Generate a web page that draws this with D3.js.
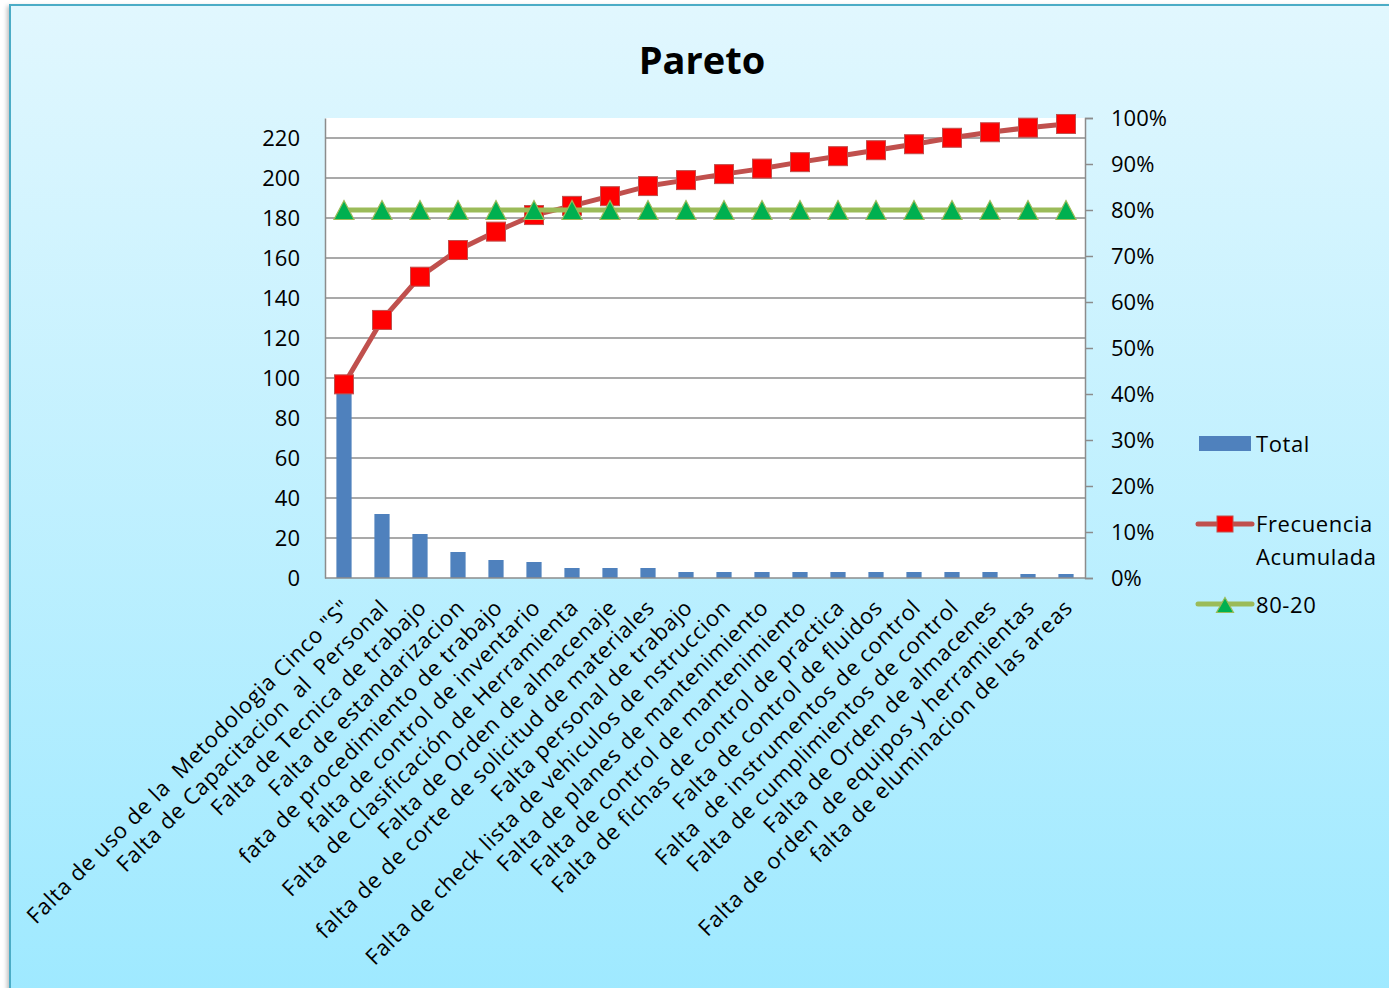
<!DOCTYPE html>
<html>
<head>
<meta charset="utf-8">
<script src="https://cdn.jsdelivr.net/npm/d3@7/dist/d3.min.js"></script>
<style>
  html, body { margin: 0; padding: 0; background: #ffffff; }
  svg { display: block; }
  text { font-family: "Open Sans", "DejaVu Sans", sans-serif; fill: #000; }
</style>
</head>
<body>
<svg id="chart" width="1389" height="988"></svg>
<script>
// Causes, sorted by frequency
const categories = [
  'Falta de uso de la  Metodologia Cinco "S"',
  "Falta de Capacitacion  al  Personal",
  "Falta de Tecnica de trabajo",
  "Falta de estandarizacion",
  "fata de procedimiento de trabajo",
  "falta de control de inventario",
  "Falta de Clasificación de Herramienta",
  "Falta de Orden de almacenaje",
  "falta de de corte de solicitud de materiales",
  "Falta personal de trabajo",
  "Falta de check lista de vehiculos de nstruccion",
  "Falta de planes de mantenimiento",
  "Falta de control de mantenimiento",
  "Falta de fichas de control de practica",
  "Falta de control de fluidos",
  "Falta  de instrumentos de control",
  "Falta de cumplimientos de control",
  "Falta de Orden de almacenes",
  "Falta de orden  de equipos y herramientas",
  "falta de eluminacion de las areas"
];

// Occurrences per cause (left axis)
const total = [94, 32, 22, 13, 9, 8, 5, 5, 5, 3, 3, 3, 3, 3, 3, 3, 3, 3, 2, 2];

// Cumulative frequency, percent (right axis)
const acumulada = [42.1, 56.1, 65.5, 71.3, 75.3, 78.9, 80.9, 83.0, 85.2, 86.5,
                   87.8, 89.0, 90.4, 91.7, 93.0, 94.3, 95.7, 96.9, 97.9, 98.7];

// 80-20 reference line, percent
const ochentaVeinte = [80, 80, 80, 80, 80, 80, 80, 80, 80, 80,
                       80, 80, 80, 80, 80, 80, 80, 80, 80, 80];

// Axis ticks
const leftTicks = [0, 20, 40, 60, 80, 100, 120, 140, 160, 180, 200, 220];
const rightTicks = [0, 0.1, 0.2, 0.3, 0.4, 0.5, 0.6, 0.7, 0.8, 0.9, 1.0];

const legendLabels = ["Total", "Frecuencia", "Acumulada", "80-20"];

const svg = d3.select("#chart");
const defs = svg.append("defs");

const grad = defs.append("linearGradient")
  .attr("id", "bg").attr("x1", 0).attr("y1", 0).attr("x2", 0).attr("y2", 1);
grad.append("stop").attr("offset", "0%").attr("stop-color", "#e1f7fe");
grad.append("stop").attr("offset", "100%").attr("stop-color", "#9ee9ff");

const shadow = defs.append("filter").attr("id", "shadow")
  .attr("x", "-5%").attr("y", "-5%").attr("width", "110%").attr("height", "110%");
shadow.append("feDropShadow").attr("dx", -2).attr("dy", 2)
  .attr("stdDeviation", 2).attr("flood-color", "#000").attr("flood-opacity", 0.25);

// Chart frame
svg.append("rect")
  .attr("x", 10).attr("y", 5).attr("width", 1400).attr("height", 1000)
  .attr("fill", "url(#bg)")
  .attr("stroke", "#4bacc6").attr("stroke-width", 2)
  .attr("filter", "url(#shadow)");

// Plot area
const plot = { left: 325, right: 1085, top: 118, bottom: 578 };

const x = d3.scaleBand()
  .domain(d3.range(categories.length))
  .range([plot.left, plot.right])
  .paddingInner(0.6).paddingOuter(0.3);
const cx = i => x(i) + x.bandwidth() / 2;

const yLeft = d3.scaleLinear().domain([0, 230]).range([plot.bottom, plot.top]);
const yRight = d3.scaleLinear().domain([0, 1]).range([plot.bottom, plot.top]);

svg.append("rect")
  .attr("x", plot.left).attr("y", plot.top)
  .attr("width", plot.right - plot.left).attr("height", plot.bottom - plot.top)
  .attr("fill", "#ffffff");

// Gridlines
svg.append("g").selectAll("line").data(leftTicks.filter(d => d > 0)).join("line")
  .attr("x1", plot.left).attr("x2", plot.right)
  .attr("y1", d => yLeft(d)).attr("y2", d => yLeft(d))
  .attr("stroke", "#8c8c8c").attr("stroke-width", 1.3);

// Title
svg.append("text")
  .attr("x", 702).attr("y", 74)
  .attr("text-anchor", "middle")
  .style("font-size", "38px").style("font-weight", "bold")
  .text("Pareto");

// Bars
svg.append("g").selectAll("rect").data(total).join("rect")
  .attr("x", (d, i) => x(i))
  .attr("y", d => yLeft(d))
  .attr("width", x.bandwidth())
  .attr("height", d => plot.bottom - yLeft(d))
  .attr("fill", "#4f81bd");

// Left axis
const axL = svg.append("g")
  .attr("transform", `translate(${plot.left},0)`)
  .call(d3.axisLeft(yLeft).tickValues(leftTicks).tickSize(0).tickPadding(25));
axL.select(".domain").attr("stroke", "#8c8c8c").attr("stroke-width", 1.5);
axL.selectAll("text").style("font-size", "22px").style("font-family", '"Open Sans", sans-serif').attr("fill", "#000");

// Right axis
const axR = svg.append("g")
  .attr("transform", `translate(${plot.right},0)`)
  .call(d3.axisRight(yRight).tickValues(rightTicks).tickSize(8).tickPadding(18)
        .tickFormat(d3.format(".0%")));
axR.select(".domain").attr("stroke", "#8c8c8c").attr("stroke-width", 1.5);
axR.selectAll("line").attr("stroke", "#8c8c8c").attr("stroke-width", 1.5);
axR.selectAll("text").style("font-size", "22px").style("font-family", '"Open Sans", sans-serif').attr("fill", "#000");

// Category axis line
svg.append("line")
  .attr("x1", plot.left).attr("x2", plot.right)
  .attr("y1", plot.bottom).attr("y2", plot.bottom)
  .attr("stroke", "#8c8c8c").attr("stroke-width", 1.5);

// Category labels, rotated
svg.append("g").selectAll("text").data(categories).join("text")
  .attr("transform", (d, i) => `translate(${cx(i) + 8},${609}) rotate(-45)`)
  .attr("text-anchor", "end")
  .attr("xml:space", "preserve")
  .style("white-space", "pre")
  .style("font-size", "22px")
  .style("letter-spacing", "0.75px")
  .text(d => d);

// Cumulative frequency line
const lineC = d3.line().x((d, i) => cx(i)).y(d => yRight(d / 100));
svg.append("path").datum(acumulada)
  .attr("d", lineC).attr("fill", "none")
  .attr("stroke", "#c0504d").attr("stroke-width", 5).attr("stroke-linejoin", "round");
const sq = 19;
svg.append("g").selectAll("rect").data(acumulada).join("rect")
  .attr("x", (d, i) => cx(i) - sq / 2)
  .attr("y", d => yRight(d / 100) - sq / 2)
  .attr("width", sq).attr("height", sq)
  .attr("fill", "#ff0000").attr("stroke", "#c0504d").attr("stroke-width", 1);

// 80-20 line
const line8 = d3.line().x((d, i) => cx(i)).y(d => yRight(d / 100));
svg.append("path").datum(ochentaVeinte)
  .attr("d", line8).attr("fill", "none")
  .attr("stroke", "#9bbb59").attr("stroke-width", 5);
const tri = (px, py, w, h) => `M${px},${py - h / 2}L${px + w / 2},${py + h / 2}L${px - w / 2},${py + h / 2}Z`;
svg.append("g").selectAll("path").data(ochentaVeinte).join("path")
  .attr("d", (d, i) => tri(cx(i), yRight(d / 100), 20, 19))
  .attr("fill", "#00b050").attr("stroke", "#9bbb59").attr("stroke-width", 1.2);

// Legend
const lg = svg.append("g").style("letter-spacing", "0.6px");
lg.append("rect").attr("x", 1199).attr("y", 436).attr("width", 52).attr("height", 15).attr("fill", "#4f81bd");
lg.append("text").attr("x", 1256).attr("y", 452).style("font-size", "22px").text(legendLabels[0]);

lg.append("line").attr("x1", 1198).attr("x2", 1252).attr("y1", 524).attr("y2", 524)
  .attr("stroke", "#c0504d").attr("stroke-width", 5).attr("stroke-linecap", "round");
lg.append("rect").attr("x", 1217).attr("y", 516).attr("width", 16).attr("height", 16)
  .attr("fill", "#ff0000").attr("stroke", "#c0504d").attr("stroke-width", 1);
lg.append("text").attr("x", 1256).attr("y", 532).style("font-size", "22px").text(legendLabels[1]);
lg.append("text").attr("x", 1256).attr("y", 565).style("font-size", "22px").text(legendLabels[2]);

lg.append("line").attr("x1", 1198).attr("x2", 1252).attr("y1", 604).attr("y2", 604)
  .attr("stroke", "#9bbb59").attr("stroke-width", 5).attr("stroke-linecap", "round");
lg.append("path").attr("d", tri(1225, 605, 17, 15))
  .attr("fill", "#00b050").attr("stroke", "#9bbb59").attr("stroke-width", 1.2);
lg.append("text").attr("x", 1256).attr("y", 613).style("font-size", "22px").text(legendLabels[3]);
</script>
</body>
</html>
